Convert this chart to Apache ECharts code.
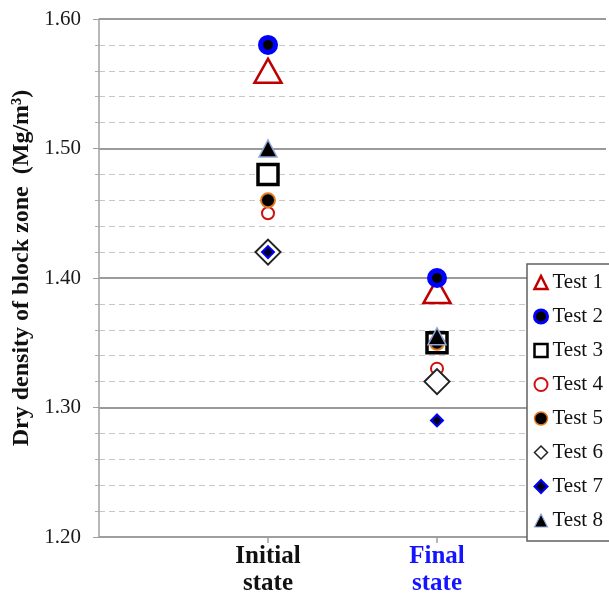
<!DOCTYPE html>
<html>
<head>
<meta charset="utf-8">
<script src="https://cdn.jsdelivr.net/npm/echarts@6/dist/echarts.min.js"></script>
<style>
  html, body { margin: 0; padding: 0; background: #fff; }
  #chart { width: 609px; height: 597px; }
</style>
</head>
<body>
<div id="chart"></div>
<script>
// Measurement states along the x axis
const categories = ['Initial\nstate', 'Final\nstate'];
const categoryColors = ['#111111', '#1414ff'];

// Dry density (Mg/m³) per test: [initial, final]
const seriesNames = ['Test 1', 'Test 2', 'Test 3', 'Test 4', 'Test 5', 'Test 6', 'Test 7', 'Test 8'];
const test1 = [1.56, 1.39];
const test2 = [1.58, 1.40];
const test3 = [1.48, 1.35];
const test4 = [1.45, 1.33];
const test5 = [1.46, 1.35];
const test6 = [1.42, 1.32];
const test7 = [1.42, 1.29];
const test8 = [1.50, 1.355];
const values = [test1, test2, test3, test4, test5, test6, test7, test8];

// Y axis range and tick labels
const yMin = 1.2, yMax = 1.6, yStep = 0.1;
const yTickLabels = ['1.20', '1.30', '1.40', '1.50', '1.60'];

// Marker appearance for each test (chart marker, legend icon)
const markerStyles = [
  { symbol: 'triangle', size: [27, 24], item: { color: '#ffffff', borderColor: '#c00000', borderWidth: 2.5 },
    legend: { color: '#ffffff', borderColor: '#c00000', borderWidth: 2.5 } },
  { symbol: 'circle', size: 15, item: { color: '#000000', borderColor: '#0000ff', borderWidth: 5 },
    legend: { color: '#000000', borderColor: '#0000ff', borderWidth: 3 } },
  { symbol: 'rect', size: 20, item: { color: '#ffffff', borderColor: '#000000', borderWidth: 3.5 },
    legend: { color: '#ffffff', borderColor: '#000000', borderWidth: 2.5 } },
  { symbol: 'circle', size: 12, item: { color: '#ffffff', borderColor: '#d01010', borderWidth: 2 },
    legend: { color: '#ffffff', borderColor: '#d01010', borderWidth: 2 } },
  { symbol: 'circle', size: 14, item: { color: '#000000', borderColor: '#e07b20', borderWidth: 2 },
    legend: { color: '#000000', borderColor: '#e07b20', borderWidth: 1.5 } },
  { symbol: 'diamond', size: 25, item: { color: '#ffffff', borderColor: '#222222', borderWidth: 2 },
    legend: { color: '#ffffff', borderColor: '#222222', borderWidth: 1.5 } },
  { symbol: 'diamond', size: 12, item: { color: '#000020', borderColor: '#0000ff', borderWidth: 2 },
    legend: { color: '#000020', borderColor: '#0000ff', borderWidth: 2 } },
  { symbol: 'triangle', size: [18, 17], item: { color: '#000000', borderColor: '#8fa8d8', borderWidth: 1.5 },
    legend: { color: '#000000', borderColor: '#8fa8d8', borderWidth: 1.2 } }
];

// Category axis padded with empty slots on both ends so the states sit at 1/3 and 2/3
const axisCategories = [''].concat(categories, ['']);

const serifFont = '"Liberation Serif", "Times New Roman", serif';

const series = seriesNames.map((name, i) => ({
  name: name,
  type: 'scatter',
  symbol: markerStyles[i].symbol,
  symbolSize: markerStyles[i].size,
  itemStyle: Object.assign({ opacity: 1 }, markerStyles[i].item),
  emphasis: { disabled: true },
  data: values[i].map((v, k) => [k + 1, v])
}));

const chart = echarts.init(document.getElementById('chart'), null, { renderer: 'canvas' });

chart.setOption({
  animation: false,
  backgroundColor: '#ffffff',
  grid: { left: 99, top: 19, right: 0, bottom: 60, containLabel: false },
  xAxis: {
    type: 'category',
    data: axisCategories,
    boundaryGap: false,
    axisLine: { show: true, lineStyle: { color: '#a0a0a0', width: 1.5 } },
    axisTick: {
      show: true,
      length: 6,
      interval: (idx) => idx === 1 || idx === 2,
      lineStyle: { color: '#a0a0a0', width: 1.5 }
    },
    axisLabel: {
      interval: 0,
      margin: 6,
      fontFamily: serifFont,
      fontWeight: 'bold',
      fontSize: 25,
      lineHeight: 27,
      align: 'center',
      color: (value) => {
        const k = categories.indexOf(value);
        return k >= 0 ? categoryColors[k] : '#000';
      }
    },
    splitLine: { show: false }
  },
  yAxis: {
    type: 'value',
    min: yMin,
    max: yMax,
    interval: yStep,
    axisLine: { show: true, lineStyle: { color: '#a0a0a0', width: 1.5 } },
    axisTick: { show: true, length: 6, lineStyle: { color: '#a0a0a0' } },
    minorTick: { show: true, splitNumber: 5, length: 4, lineStyle: { color: '#b0b0b0' } },
    axisLabel: {
      margin: 18,
      fontFamily: serifFont,
      fontSize: 21,
      color: '#1a1a1a',
      formatter: (v) => {
        const idx = Math.round((v - yMin) / yStep);
        return yTickLabels[idx] !== undefined ? yTickLabels[idx] : '';
      }
    },
    splitLine: { show: true, lineStyle: { color: '#7a7a7a', width: 1.5 } },
    minorSplitLine: { show: true, lineStyle: { color: '#c8c8c8', width: 1, type: [6, 4] } }
  },
  legend: {
    orient: 'vertical',
    left: 527,
    top: 264,
    padding: [8, 12, 10, 6],
    itemWidth: 13,
    itemHeight: 13,
    itemGap: 13,
    backgroundColor: '#ffffff',
    borderColor: '#606060',
    borderWidth: 1.5,
    borderRadius: 0,
    selectedMode: false,
    textStyle: { fontFamily: serifFont, fontSize: 21, color: '#111111' },
    data: seriesNames.map((name, i) => ({
      name: name,
      icon: markerStyles[i].symbol,
      itemStyle: Object.assign({ opacity: 1 }, markerStyles[i].legend)
    }))
  },
  graphic: [{
    type: 'text',
    x: 22,
    y: 268,
    rotation: Math.PI / 2,
    style: {
      text: 'Dry density of block zone  (Mg/m³)',
      font: 'bold 24px ' + serifFont,
      fill: '#111111',
      textAlign: 'center',
      textVerticalAlign: 'middle'
    }
  }],
  series: series
});
</script>
</body>
</html>
